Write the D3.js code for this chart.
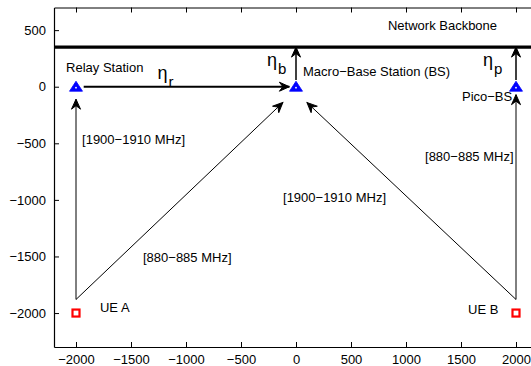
<!DOCTYPE html>
<html>
<head>
<meta charset="utf-8">
<script src="https://cdn.jsdelivr.net/npm/d3@7"></script>
<style>
  body { margin: 0; background: #fff; }
  svg { font-family: "Liberation Sans", Arial, sans-serif; }
</style>
</head>
<body>
<svg id="chart" width="531" height="366"></svg>
<script>
// tick labels
const xTicks = [-2000, -1500, -1000, -500, 0, 500, 1000, 1500, 2000];
const yTicks = [-2000, -1500, -1000, -500, 0, 500];

// base stations (blue triangles) and users (red squares)
const stations = [
  { id: 'relay', x: -2000, y: 0 },
  { id: 'macro', x: 0, y: 0 },
  { id: 'pico', x: 2000, y: 0 },
];
const users = [
  { id: 'UE A', x: -2000, y: -2000 },
  { id: 'UE B', x: 2000, y: -2000 },
];

const backboneY = 350;

// links drawn as arrows: [x1, y1, x2, y2, lineWidth]
const arrows = [
  [-1930, 0, -60, 0, 2],
  [0, 60, 0, 350, 1.5],
  [2000, 60, 2000, 350, 1.5],
  [-2000, -1880, -2000, -110, 1],
  [-2000, -1880, -120, -140, 1],
  [2000, -1880, 100, -140, 1],
  [2000, -1880, 2000, -70, 1],
];

// plain text annotations: [x, y, text]
const labels = [
  [-2090, 130, 'Relay Station'],
  [64, 95, 'Macro\u2212Base Station (BS)'],
  [836, 501, 'Network Backbone'],
  [1509, -126, 'Pico\u2212BS'],
  [-1945, -506, '[1900\u22121910 MHz]'],
  [1173, -657, '[880\u2212885 MHz]'],
  [-118, -1019, '[1900\u22121910 MHz]'],
  [-1391, -1549, '[880\u2212885 MHz]'],
  [-1782, -1991, 'UE A'],
  [1564, -2008, 'UE B'],
];

// eta labels with subscripts: [x, y, subscript]
const etas = [
  [-1260, 68, 'r'],
  [-264, 183, 'b'],
  [1700, 183, 'p'],
];

const svg = d3.select('#chart');

const x = d3.scaleLinear().domain([-2200, 2200]).range([54, 538]);
const y = d3.scaleLinear().domain([-2300, 700]).range([347, 7.5]);

// axes (ticks inside like matlab)
const fmt = (d) => (d < 0 ? '\u2212' + Math.abs(d) : '' + d);

svg.append('g')
  .attr('transform', `translate(0,${y(-2300)})`)
  .call(d3.axisBottom(x).tickValues(xTicks).tickSizeInner(-5).tickSizeOuter(0).tickPadding(8).tickFormat(fmt))
  .call((g) => g.select('.domain').attr('stroke-width', 1.2));

svg.append('g')
  .attr('transform', `translate(0,${y(700)})`)
  .call(d3.axisTop(x).tickValues(xTicks).tickSizeInner(-5).tickSizeOuter(0).tickFormat(''));

svg.append('g')
  .attr('transform', `translate(${x(-2200)},0)`)
  .call(d3.axisLeft(y).tickValues(yTicks).tickSizeInner(-5).tickSizeOuter(0).tickPadding(8).tickFormat(fmt))
  .call((g) => g.select('.domain').attr('stroke-width', 1.2));

svg.selectAll('.tick text')
  .attr('font-size', 13)
  .attr('font-family', '"Liberation Sans", Arial, sans-serif')
  .attr('fill', '#000');

// network backbone
svg.append('line')
  .attr('x1', x(-2200))
  .attr('x2', x(2200))
  .attr('y1', y(backboneY))
  .attr('y2', y(backboneY))
  .attr('stroke', '#000')
  .attr('stroke-width', 3.2);

// arrows
const arrowG = svg.append('g');
arrows.forEach(([x1, y1, x2, y2, w]) => {
  const px1 = x(x1), py1 = y(y1), px2 = x(x2), py2 = y(y2);
  const ang = Math.atan2(py2 - py1, px2 - px1) * 180 / Math.PI;
  arrowG.append('line')
    .attr('x1', px1).attr('y1', py1)
    .attr('x2', px2).attr('y2', py2)
    .attr('stroke', '#000')
    .attr('stroke-width', w);
  arrowG.append('path')
    .attr('d', 'M0,0 L-10,-4.5 L-6.5,0 L-10,4.5 Z')
    .attr('transform', `translate(${px2},${py2}) rotate(${ang})`)
    .attr('fill', '#000')
    .attr('stroke', '#000')
    .attr('stroke-width', 1)
    .attr('stroke-linejoin', 'miter');
});

// station markers
const st = svg.append('g').selectAll('g')
  .data(stations)
  .enter()
  .append('g')
  .attr('transform', (d) => `translate(${x(d.x)},${y(d.y)})`);
st.append('path')
  .attr('d', 'M0,-5.5 L6.5,4.5 L-6.5,4.5 Z')
  .attr('fill', '#0000ff')
  .attr('stroke', '#0000ff')
  .attr('stroke-width', 0.8);
st.append('circle')
  .attr('r', 0.9)
  .attr('cy', 1)
  .attr('fill', '#fff');

// user markers
svg.append('g').selectAll('rect')
  .data(users)
  .enter()
  .append('rect')
  .attr('x', (d) => x(d.x) - 3.5)
  .attr('y', (d) => y(d.y) - 3.5)
  .attr('width', 7)
  .attr('height', 7)
  .attr('fill', '#fff')
  .attr('stroke', '#ff0000')
  .attr('stroke-width', 2.2);

// text annotations
svg.append('g').selectAll('text')
  .data(labels)
  .enter()
  .append('text')
  .attr('x', (d) => x(d[0]))
  .attr('y', (d) => y(d[1]))
  .attr('font-size', 13)
  .attr('fill', '#000')
  .text((d) => d[2]);

const eta = svg.append('g').selectAll('text')
  .data(etas)
  .enter()
  .append('text')
  .attr('x', (d) => x(d[0]))
  .attr('y', (d) => y(d[1]))
  .attr('font-size', 18)
  .attr('fill', '#000');
eta.append('tspan').text('\u03b7');
eta.append('tspan')
  .attr('dy', 8)
  .attr('dx', 1)
  .attr('font-size', 15)
  .text((d) => d[2]);
</script>
</body>
</html>
